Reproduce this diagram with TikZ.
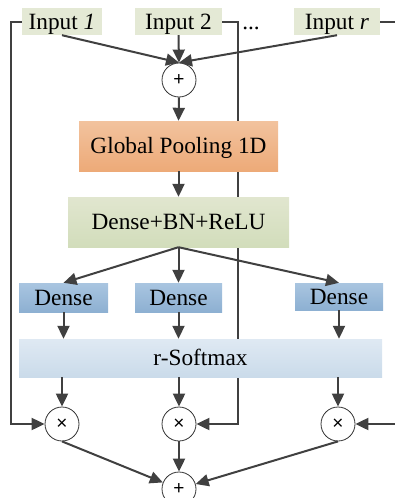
\documentclass[tikz,border=0pt]{standalone}
\usepackage{fontspec}
\setmainfont{Liberation Serif}
\newfontfamily\symfont{Liberation Sans}
\usetikzlibrary{arrows.meta}
\pgfdeclarelayer{bg}
\pgfsetlayers{bg,main}
\definecolor{lc}{HTML}{404040}
\definecolor{inc}{HTML}{E4E9D5}
\definecolor{gpt}{HTML}{F2C39E}
\definecolor{gpb}{HTML}{EDAA78}
\definecolor{dbt}{HTML}{E1E6CF}
\definecolor{dbb}{HTML}{D2DDBB}
\definecolor{dnt}{HTML}{A9C5E0}
\definecolor{dnb}{HTML}{8DB0D2}
\definecolor{smt}{HTML}{DFE9F3}
\definecolor{smb}{HTML}{CADBEA}
\begin{document}
\begin{tikzpicture}[x=1pt,y=-1pt,
  box/.style={inner sep=0pt, text height=15.2pt, text depth=0pt,
    font=\fontsize{23.3}{27}\selectfont},
  inbox/.style={box, fill=inc, minimum height=27pt},
  gpbox/.style={box, top color=gpt, bottom color=gpb, minimum height=50pt},
  dbbox/.style={box, top color=dbt, bottom color=dbb, minimum height=50pt},
  dnbox/.style={box, top color=dnt, bottom color=dnb, minimum height=29pt},
  smbox/.style={box, top color=smt, bottom color=smb, minimum height=38pt},
  op/.style={circle, draw=black!80, line width=0.8pt, fill=white, minimum size=34pt,
    inner sep=0pt, font=\symfont\fontsize{19}{19}\selectfont},
  arr/.style={draw=lc, line width=2pt, -{Triangle[length=13pt,width=12pt]}},
  ln/.style={draw=lc, line width=2pt}]
\useasboundingbox (0,0) rectangle (394,498);

% inputs
\node[inbox, minimum width=80pt] (in1) at (62,21.5) {Input \textit{1}};
\node[inbox, minimum width=87pt] (in2) at (178.5,21.5) {Input 2};
\node[inbox, minimum width=86pt] (inr) at (337,21.5) {Input \textit{r}};
\node[anchor=base, inner sep=0pt, font=\fontsize{23.3}{27}\selectfont] (dots) at (251,29) {...};

\node[op] (p1) at (179,80) {+};
\node[gpbox, minimum width=199pt] (gp) at (178.5,146) {Global Pooling 1D};
\node[dbbox, minimum width=221pt] (db) at (178.5,222) {Dense+BN+ReLU};
\node[dnbox, minimum width=89pt] (d1) at (63.5,297.5) {Dense};
\node[dnbox, minimum width=87pt] (d2) at (178.5,297.5) {Dense};
\node[dnbox, minimum width=88pt, minimum height=27pt] (d3) at (339,296.5) {Dense};
\node[smbox, minimum width=363pt] (sm) at (200.5,358) {r-Softmax};
\node[op] (m1) at (62,424) {×};
\node[op] (m2) at (179,424) {×};
\node[op] (m3) at (338,424) {×};
\node[op] (p2) at (179,489) {+};
\coordinate (rin) at (400,424);
\coordinate (rout) at (400,21.5);

% bypass lines behind the boxes
\begin{pgfonlayer}{bg}
\draw[arr] (in1.west) -- ++(-11,0) |- (m1.west);
\draw[arr] (in2.east) -- ++(15.5,0) |- (m2.east);
\draw[ln] (inr.east) -- (rout);
\end{pgfonlayer}
\draw[arr] (rin) -- (m3.east);

% main flow
\draw[arr] (in1.south) -- (p1.north);
\draw[arr] (in2.south) -- (p1.north);
\draw[arr] (inr.south) -- (p1.north);
\draw[arr] (p1.south) -- (gp.north);
\draw[arr] (gp.south) -- (db.north);
\draw[arr] (db.south) -- (d1.north);
\draw[arr] (db.south) -- (d2.north);
\draw[arr] (db.south) -- (d3.north);
\draw[arr] (d1.south) -- (d1.south |- sm.north);
\draw[arr] (d2.south) -- (d2.south |- sm.north);
\draw[arr] (d3.south) -- (d3.south |- sm.north);
\draw[arr] (m1.north |- sm.south) -- (m1.north);
\draw[arr] (m2.north |- sm.south) -- (m2.north);
\draw[arr] (m3.north |- sm.south) -- (m3.north);
\draw[arr] (m1.south) -- (p2);
\draw[arr] (m2.south) -- (p2.north);
\draw[arr] (m3.south) -- (p2);
\end{tikzpicture}
\end{document}
